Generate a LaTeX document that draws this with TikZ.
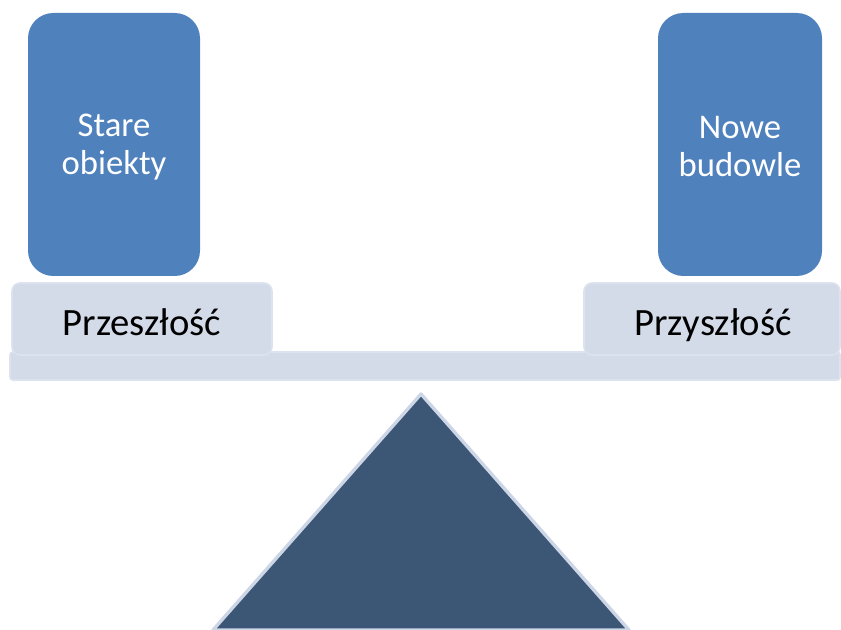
\documentclass[tikz,border=0pt]{standalone}
\usepackage{fontspec}
\setmainfont{Carlito}
\definecolor{boxblue}{HTML}{4F81BD}
\definecolor{lightbar}{HTML}{D3DAE8}
\definecolor{lightedge}{HTML}{DDE3EE}
\definecolor{darktri}{HTML}{3C5675}
\definecolor{triedge}{HTML}{CDD6E6}
\begin{document}
\begin{tikzpicture}[x=0.75pt,y=-0.75pt,
  weight/.style={fill=boxblue, draw=none, rounded corners=19pt},
  weighttext/.style={text=white, font=\fontsize{26}{28.5}\selectfont, align=center, inner sep=0pt},
  labelbox/.style={fill=lightbar, draw=lightedge, line width=1.2pt, rounded corners=6pt},
  labeltext/.style={text=black, font=\fontsize{29}{34}\selectfont, anchor=base, inner sep=0pt},
  beam/.style={fill=lightbar, draw=lightedge, line width=1.2pt, rounded corners=2pt},
  fulcrum/.style={fill=darktri, draw=triedge, line width=2.5pt, line join=round}]
\useasboundingbox (0,0) rectangle (841,630);
% beam
\path[beam] (10,352) rectangle (840,380);
% label boxes
\path[labelbox] (12,283) rectangle (272,355);
\path[labelbox] (584,283) rectangle (840,355);
\node[labeltext] (past) at (142,336) {Przeszłość};
\node[labeltext] (future) at (713,336) {Przyszłość};
% weights
\path[weight] (28,13) rectangle (200,276);
\path[weight] (658,13) rectangle (822,276);
\node[weighttext] (old) at (114,147) {Stare\\obiekty};
\node[weighttext] (new) at (740,147) {Nowe\\budowle};
% fulcrum
\coordinate (apex) at (421,394);
\coordinate (bl) at (213,630);
\coordinate (br) at (629,630);
\path[fulcrum] (apex) -- (br) -- (bl) -- cycle;
\end{tikzpicture}
\end{document}
